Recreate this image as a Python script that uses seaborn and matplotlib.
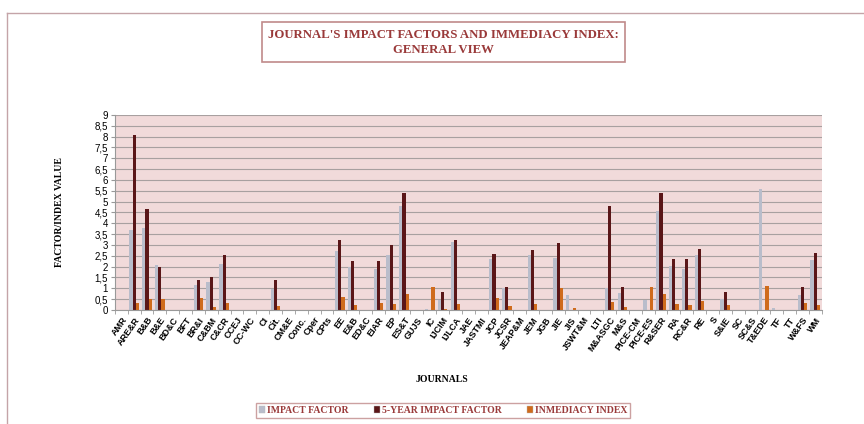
import matplotlib
matplotlib.use("Agg")
import matplotlib.pyplot as plt
import matplotlib.patches as mpatches
import numpy as np
import pandas as pd
import seaborn as sns

# Journals on the x axis
journals = ["AMR", "ARE&R", "B&B", "B&E", "BD&C", "BFT", "BR&I", "C&BM", "C&CR", "CCEJ",
            "CC-WC", "CI", "Cit.", "CM&E", "Conc.", "Cper", "CPts", "EE", "E&B", "ED&C",
            "EIAR", "EP", "ES&T", "GUJS", "IC", "IJCIM", "IJLCA", "JAE", "JASTMI", "JCP",
            "JCSR", "JEAP&M", "JEM", "JGB", "JIE", "JIS", "JSWT&M", "LTI", "M&ASGC", "M&S",
            "PICE-CM", "PICE-ES", "R&SER", "RA", "RC&R", "RE", "S", "S&IE", "SC", "SC&S",
            "T&EDE", "TF", "TT", "W&FS", "WM"]

impact_factor = [0, 3.67, 3.77, 2.07, 0, 0, 1.16, 1.30, 2.11, 0,
                 0, 0, 0.97, 0, 0, 0, 0, 2.70, 1.96, 0,
                 1.88, 2.55, 4.78, 0, 0.03, 0.45, 3.12, 0, 0, 2.35,
                 1.03, 0, 2.52, 0, 2.39, 0.69, 0, 0, 1.00, 0.77,
                 0, 0.45, 4.55, 2.05, 1.90, 2.52, 0, 0.49, 0, 0,
                 5.59, 0.09, 0, 0.69, 2.31]

five_year_if = [0, 8.06, 4.66, 1.96, 0, 0, 1.36, 1.54, 2.53, 0,
                0, 0, 1.40, 0, 0, 0, 0, 3.21, 2.24, 0,
                2.24, 3.00, 5.39, 0, 0, 0.82, 3.21, 0, 0, 2.58,
                1.08, 0, 2.75, 0, 3.07, 0, 0, 0, 4.81, 1.05,
                0, 0, 5.40, 2.33, 2.33, 2.81, 0, 0.82, 0, 0,
                0, 0, 0, 1.08, 2.64]

immediacy = [0, 0.31, 0.49, 0.52, 0, 0, 0.57, 0.14, 0.31, 0,
             0, 0, 0.20, 0, 0, 0, 0, 0.59, 0.25, 0,
             0.32, 0.28, 0.73, 0, 1.08, 0.05, 0.29, 0, 0, 0.57,
             0.19, 0, 0.28, 0, 1.02, 0.08, 0, 0, 0.35, 0.14,
             0, 1.08, 0.74, 0.26, 0.23, 0.42, 0, 0.23, 0, 0,
             1.11, 0.02, 0, 0.32, 0.23]

series = ["IMPACT FACTOR", "5-YEAR IMPACT FACTOR", "INMEDIACY INDEX"]
colors = ["#b9bdcb", "#5a1618", "#cf6b1c"]

# long form table for seaborn
df = pd.DataFrame({
    "journal": journals * 3,
    "value": impact_factor + five_year_if + immediacy,
    "serie": [series[0]] * len(journals) + [series[1]] * len(journals) + [series[2]] * len(journals),
})

serif = ["Liberation Serif", "DejaVu Serif"]
title_col = "#9a3a3a"

fig = plt.figure(figsize=(8.64, 4.24), dpi=100)
ax = fig.add_axes([0.133, 0.269, 0.818, 0.46])
ax.set_facecolor("#f1dada")

sns.barplot(data=df, x="journal", y="value", hue="serie", palette=colors,
            width=0.75, ax=ax, legend=False, saturation=1)

ax.set_ylim(0, 9)
ax.set_xlim(-0.5, len(journals) - 0.5)
ax.set_yticks(np.arange(0, 9.01, 0.5))
ax.set_yticklabels([("%g" % v).replace(".", ",") for v in np.arange(0, 9.01, 0.5)],
                   fontsize=7, family="Liberation Sans")
ax.yaxis.grid(True, color="#a8a0a0", linewidth=0.8)
ax.set_axisbelow(True)
ax.tick_params(axis="y", length=3, color="#999999", pad=2)

ax.set_xticks(range(len(journals)))
ax.set_xticklabels(journals, rotation=55, ha="right", rotation_mode="anchor",
                   fontsize=6.5, family="Liberation Sans", fontweight="bold")
ax.tick_params(axis="x", length=0, pad=4)
ax.set_xticks(np.arange(-0.5, len(journals), 1), minor=True)
ax.tick_params(axis="x", which="minor", length=3, color="#999999")

for s in ["top", "right"]:
    ax.spines[s].set_visible(False)
ax.spines["left"].set_color("#999999")
ax.spines["bottom"].set_color("#999999")

ax.set_xlabel("")
ax.set_ylabel("")
fig.text(0.069, 0.5, "FACTOR/INDEX VALUE", rotation=90, ha="center", va="center",
         fontsize=7, fontweight="bold", family=serif)
fig.text(0.512, 0.106, "JOURNALS", ha="center", va="center",
         fontsize=7, fontweight="bold", family=serif)

# title in a box
fig.text(0.513, 0.9, "JOURNAL'S IMPACT FACTORS AND IMMEDIACY INDEX:\nGENERAL VIEW",
         ha="center", va="center", fontsize=9.2, fontweight="bold", family=serif,
         color=title_col, linespacing=1.25)
fig.patches.append(mpatches.Rectangle((0.303, 0.853), 0.42, 0.095, transform=fig.transFigure,
                                      fill=False, edgecolor="#c08a8a", linewidth=1.2))

# outer frame (top and left)
fig.add_artist(plt.Line2D([0.008, 1.0], [0.969, 0.969], color="#c4a4a8", linewidth=1, transform=fig.transFigure))
fig.add_artist(plt.Line2D([0.008, 0.008], [0.0, 0.969], color="#c4a4a8", linewidth=1, transform=fig.transFigure))

# legend at the bottom
handles = [mpatches.Patch(facecolor=c, edgecolor="#bbbbbb", linewidth=0.3) for c in colors]
leg = fig.legend(handles, series, loc="center", bbox_to_anchor=(0.513, 0.032), ncol=3,
                 frameon=True, fancybox=False, handlelength=0.6, handleheight=0.6,
                 handletextpad=0.2, columnspacing=2.6, borderpad=0.35,
                 borderaxespad=0, prop={"family": serif, "weight": "bold", "size": 7})
leg.get_frame().set_edgecolor("#c08a8a")
leg.get_frame().set_linewidth(1)
for t in leg.get_texts():
    t.set_color(title_col)

fig.savefig("out.png", dpi=100)
